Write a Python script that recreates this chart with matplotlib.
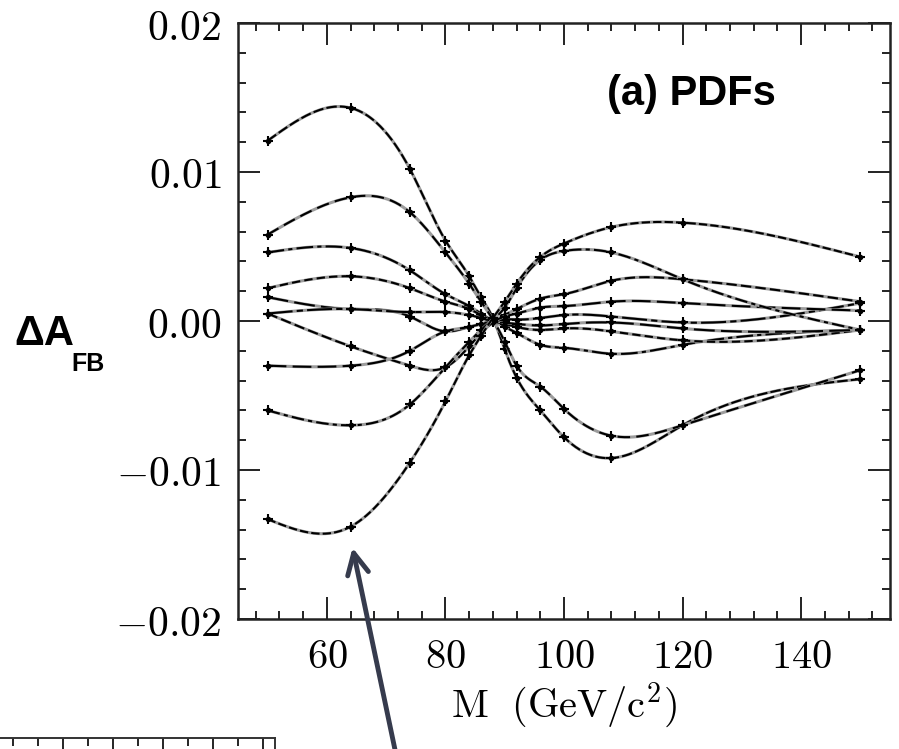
import numpy as np
import matplotlib
matplotlib.use("Agg")
import matplotlib.pyplot as plt

plt.rcParams['mathtext.fontset'] = 'cm'

# dilepton mass points (GeV/c^2)
mass = [50, 64, 74, 80, 84, 86, 88, 90, 92, 96, 100, 108, 120, 150]

# Delta A_FB for each PDF eigenvector shift
ev1 = [0.0121, 0.0143, 0.0102, 0.0054, 0.0030, 0.0016, 0.0002, -0.0019, -0.0038, -0.0060, -0.0078, -0.0092, -0.0070, -0.0039]
ev2 = [0.0058, 0.0083, 0.0073, 0.0046, 0.0025, 0.0013, 0.0001, -0.0014, -0.0030, -0.0044, -0.0059, -0.0077, -0.0070, -0.0033]
ev3 = [0.0046, 0.0049, 0.0034, 0.0018, 0.0010, 0.0005, 0.0000, -0.0004, -0.0008, -0.0016, -0.0018, -0.0022, -0.0016, -0.0006]
ev4 = [0.0022, 0.0030, 0.0022, 0.0013, 0.0008, 0.0004, 0.0000, -0.0002, -0.0004, -0.0006, -0.0005, -0.0007, -0.0013, -0.0006]
ev5 = [0.0016, 0.0008, 0.0003, -0.0007, -0.0004, -0.0002, 0.0000, -0.0001, -0.0002, -0.0003, -0.0002, -0.0001, -0.0005, -0.0006]
ev6 = [0.0005, 0.0008, 0.0006, 0.0006, 0.0004, 0.0002, 0.0000, 0.0001, 0.0001, 0.0002, 0.0004, 0.0003, -0.0001, 0.0012]
ev7 = [0.0005, -0.0017, -0.0030, -0.0031, -0.0017, -0.0008, -0.0001, 0.0004, 0.0008, 0.0015, 0.0018, 0.0027, 0.0028, 0.0013]
ev8 = [-0.0030, -0.0030, -0.0020, -0.0007, -0.0004, -0.0002, 0.0000, 0.0003, 0.0005, 0.0009, 0.0010, 0.0013, 0.0012, 0.0007]
ev9 = [-0.0060, -0.0070, -0.0056, -0.0031, -0.0014, -0.0006, 0.0001, 0.0009, 0.0022, 0.0041, 0.0047, 0.0046, 0.0028, -0.0006]
ev10 = [-0.0133, -0.0138, -0.0095, -0.0054, -0.0023, -0.0010, 0.0002, 0.0013, 0.0025, 0.0043, 0.0052, 0.0063, 0.0066, 0.0043]

x_ticks = [60, 80, 100, 120, 140]
x_labels = ['$60$', '$80$', '$100$', '$120$', '$140$']
y_ticks = [-0.02, -0.01, 0.0, 0.01, 0.02]
y_labels = ['$-0.02$', '$-0.01$', '$0.00$', '$0.01$', '$0.02$']


def smooth(x, y, xs):
    # natural cubic spline through the points
    x = np.asarray(x, float)
    y = np.asarray(y, float)
    n = len(x)
    h = np.diff(x)
    A = np.zeros((n, n))
    r = np.zeros(n)
    A[0, 0] = A[-1, -1] = 1
    for i in range(1, n - 1):
        A[i, i - 1] = h[i - 1]
        A[i, i] = 2 * (h[i - 1] + h[i])
        A[i, i + 1] = h[i]
        r[i] = 3 * ((y[i + 1] - y[i]) / h[i] - (y[i] - y[i - 1]) / h[i - 1])
    c = np.linalg.solve(A, r)
    b = (y[1:] - y[:-1]) / h - h * (2 * c[:-1] + c[1:]) / 3
    d = (c[1:] - c[:-1]) / (3 * h)
    k = np.clip(np.searchsorted(x, xs) - 1, 0, n - 2)
    t = xs - x[k]
    return y[k] + b[k] * t + c[k] * t ** 2 + d[k] * t ** 3


W, H = 899, 749
fig = plt.figure(figsize=(W / 100, H / 100), dpi=100)
ax = fig.add_axes([238 / W, 1 - 619 / H, (890 - 238) / W, (619 - 23) / H])

series = [ev1, ev2, ev3, ev4, ev5, ev6, ev7, ev8, ev9, ev10]
dash_styles = [(5, 1.5), (6, 3), (8, 2, 2, 2), (4, 2), (10, 3), (12, 2, 3, 2),
               (5, 2), (9, 3), (6, 2, 2, 2), (4, 1.5)]

xs = np.linspace(mass[0], mass[-1], 800)
for vals, dash in zip(series, dash_styles):
    ys = smooth(mass, vals, xs)
    ax.plot(xs, ys, color='#9c9c9c', lw=2.2)
    ax.plot(xs, ys, color='black', lw=1.5, dashes=dash)
    ax.plot(mass, vals, '+', color='black', ms=7, mew=1.5)
    ax.plot(mass, vals, 'o', color='black', ms=3)

ax.set_xlim(45, 155)
ax.set_ylim(-0.02, 0.02)
ax.set_xticks(x_ticks, x_labels)
ax.set_xticks(np.arange(48, 155, 4), minor=True)
ax.set_yticks(y_ticks, y_labels)
ax.set_yticks(np.arange(-0.02, 0.0201, 0.002), minor=True)
ax.tick_params(which='both', direction='in', top=True, right=True, width=1.4, color='#222222')
ax.tick_params(which='major', length=16)
ax.tick_params(which='minor', length=6)
ax.tick_params(axis='y', labelsize=30, pad=12)
ax.tick_params(axis='x', labelsize=29, pad=13)
for s in ax.spines.values():
    s.set_linewidth(1.8)
    s.set_color('#222222')

ax.set_xlabel(r'$\mathrm{M\ \ (GeV/c^2)}$', fontsize=29, labelpad=3)

bold_sans = ['Liberation Sans Narrow', 'Liberation Sans', 'DejaVu Sans']
fig.text(607 / W, 1 - 94 / H, '(a) PDFs', family=bold_sans, weight='bold',
         fontsize=30, va='center', ha='left')
fig.text(14 / W, 1 - 345 / H, 'ΔA', family=bold_sans, weight='bold',
         fontsize=30, va='baseline', ha='left')
fig.text(71 / W, 1 - 371 / H, 'FB', family=bold_sans, weight='bold',
         fontsize=18, va='baseline', ha='left')

# pointer arrow
ax.annotate('', xy=(352 / W, 1 - 545 / H), xycoords='figure fraction',
            xytext=(398 / W, -0.02), textcoords='figure fraction',
            arrowprops=dict(arrowstyle='->', lw=3.5, color='#363b4d',
                            mutation_scale=38),
            annotation_clip=False)

# top edge of the panel below
ax2 = fig.add_axes([0, 0, 275 / W, 11 / H])
ax2.set_xlim(0, 275)
ax2.set_ylim(0, 1)
for side in ['left', 'bottom']:
    ax2.spines[side].set_visible(False)
for side in ['top', 'right']:
    ax2.spines[side].set_linewidth(1.4)
    ax2.spines[side].set_color('#333333')
ax2.set_xticks(np.arange(63, 275, 50))
ax2.set_xticks(np.arange(13, 275, 25), minor=True)
ax2.tick_params(which='both', direction='in', top=True, bottom=False,
                left=False, labelbottom=False, labelleft=False, width=1.2)
ax2.tick_params(which='major', length=9)
ax2.tick_params(which='minor', length=6)
ax2.set_yticks([])

fig.savefig('out.png', dpi=100, facecolor='white')
